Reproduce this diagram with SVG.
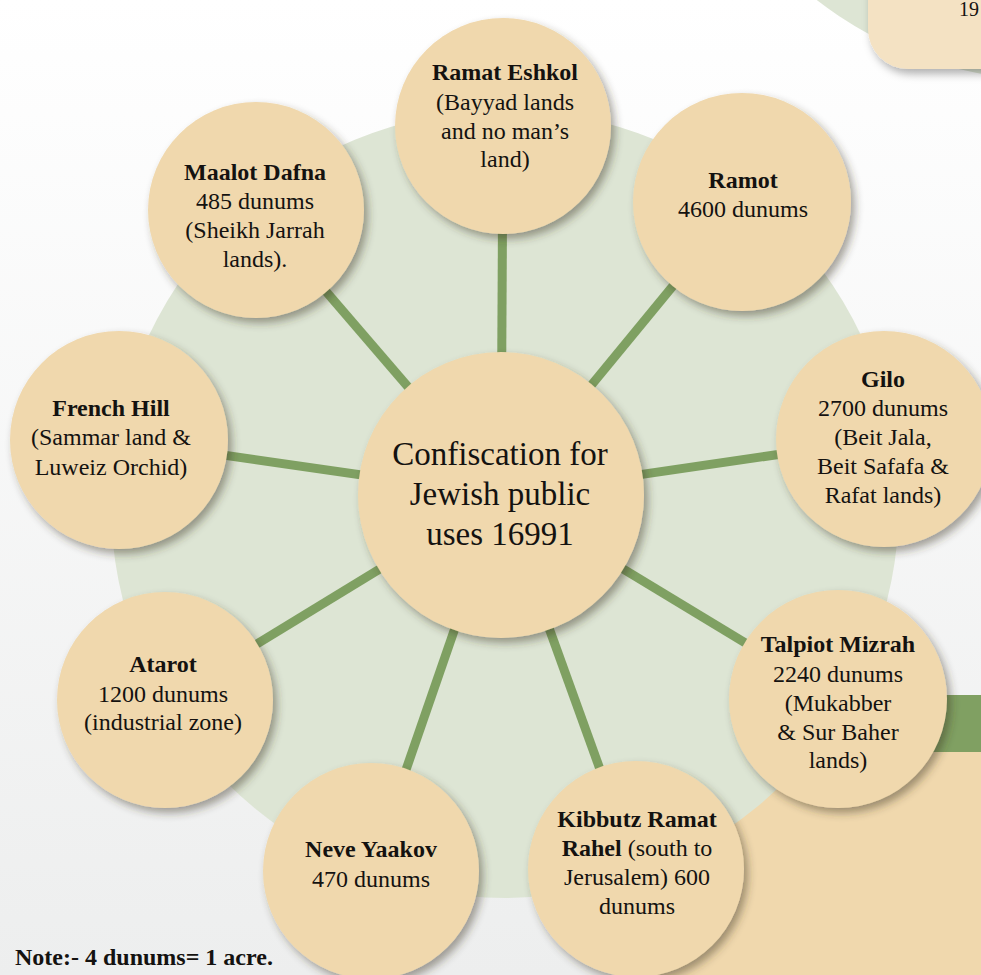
<svg xmlns="http://www.w3.org/2000/svg" width="981" height="975" viewBox="0 0 981 975">
<defs>
<linearGradient id="bg" x1="0" y1="0" x2="0" y2="1">
<stop offset="0" stop-color="#ffffff"/>
<stop offset="1" stop-color="#edeeee"/>
</linearGradient>
<filter id="sh" x="-20%" y="-20%" width="150%" height="150%">
<feDropShadow dx="4" dy="5" stdDeviation="4" flood-color="#3a3520" flood-opacity="0.45"/>
</filter>
<filter id="sh2" x="-20%" y="-50%" width="150%" height="200%">
<feDropShadow dx="3" dy="5" stdDeviation="4" flood-color="#000" flood-opacity="0.3"/>
</filter>
</defs>
<style>
.node{fill:#f0d8ad;filter:url(#sh)}
.t{font-family:"Liberation Serif","Times New Roman",serif;font-size:24px;fill:#141210;text-anchor:middle}
.b{font-weight:bold}
.c{font-size:33px}
.link{stroke:#7fa062;stroke-width:9;fill:none}
</style>
<rect width="981" height="975" fill="url(#bg)"/>
<g id="backdrop">
<circle cx="1050" cy="-300" r="380" fill="#dde5d4"/>
<rect x="868" y="-60" width="160" height="129" rx="40" fill="#f4e2c3" filter="url(#sh2)"/>
<text x="959" y="16" class="t" style="text-anchor:start;font-size:20px">19</text>
<rect x="640" y="752" width="360" height="240" fill="#f0d8ad"/>
<rect x="880" y="695" width="110" height="57" fill="#80a062"/>
<circle cx="505" cy="504" r="394" fill="#dde5d4"/>
</g>
<g id="connectors">
<line class="link" x1="501" y1="495" x2="503" y2="126"/>
<line class="link" x1="501" y1="495" x2="742" y2="202"/>
<line class="link" x1="501" y1="495" x2="884" y2="439"/>
<line class="link" x1="501" y1="495" x2="838" y2="699"/>
<line class="link" x1="501" y1="495" x2="636" y2="869"/>
<line class="link" x1="501" y1="495" x2="371" y2="871"/>
<line class="link" x1="501" y1="495" x2="165" y2="700"/>
<line class="link" x1="501" y1="495" x2="119" y2="440"/>
<line class="link" x1="501" y1="495" x2="256" y2="210"/>
</g>
<g id="n-ramat-eshkol">
<circle class="node" cx="503" cy="126" r="108"/>
<text class="t b" x="505" y="80">Ramat Eshkol</text>
<text class="t" x="505" y="110">(Bayyad lands</text>
<text class="t" x="505" y="139">and no man’s</text>
<text class="t" x="505" y="167">land)</text>
</g>
<g id="n-ramot">
<circle class="node" cx="742" cy="202" r="109"/>
<text class="t b" x="743" y="188">Ramot</text>
<text class="t" x="743" y="217">4600 dunums</text>
</g>
<g id="n-gilo">
<circle class="node" cx="884" cy="439" r="108"/>
<text class="t b" x="883" y="387">Gilo</text>
<text class="t" x="883" y="416">2700 dunums</text>
<text class="t" x="883" y="445">(Beit Jala,</text>
<text class="t" x="883" y="474">Beit Safafa &amp;</text>
<text class="t" x="883" y="503">Rafat lands)</text>
</g>
<g id="n-talpiot">
<circle class="node" cx="838" cy="699" r="109"/>
<text class="t b" x="838" y="652">Talpiot Mizrah</text>
<text class="t" x="838" y="682">2240 dunums</text>
<text class="t" x="838" y="711">(Mukabber</text>
<text class="t" x="838" y="740">&amp; Sur Baher</text>
<text class="t" x="838" y="768">lands)</text>
</g>
<g id="n-kibbutz">
<circle class="node" cx="636" cy="869" r="108"/>
<text class="t b" x="637" y="827">Kibbutz Ramat</text>
<text class="t" x="637" y="856"><tspan class="b">Rahel</tspan> (south to</text>
<text class="t" x="637" y="885">Jerusalem) 600</text>
<text class="t" x="637" y="914">dunums</text>
</g>
<g id="n-neve-yaakov">
<circle class="node" cx="371" cy="871" r="108"/>
<text class="t b" x="371" y="857">Neve Yaakov</text>
<text class="t" x="371" y="887">470 dunums</text>
</g>
<g id="n-atarot">
<circle class="node" cx="165" cy="700" r="108"/>
<text class="t b" x="163" y="672">Atarot</text>
<text class="t" x="163" y="702">1200 dunums</text>
<text class="t" x="163" y="730">(industrial zone)</text>
</g>
<g id="n-french-hill">
<circle class="node" cx="119" cy="440" r="109"/>
<text class="t b" x="111" y="416">French Hill</text>
<text class="t" x="111" y="445">(Sammar land &amp;</text>
<text class="t" x="111" y="475">Luweiz Orchid)</text>
</g>
<g id="n-maalot-dafna">
<circle class="node" cx="256" cy="210" r="108"/>
<text class="t b" x="255" y="180">Maalot Dafna</text>
<text class="t" x="255" y="209">485 dunums</text>
<text class="t" x="255" y="238">(Sheikh Jarrah</text>
<text class="t" x="255" y="267">lands).</text>
</g>
<g id="n-center">
<circle class="node" cx="501" cy="495" r="143"/>
<text class="t c" x="500" y="465">Confiscation for</text>
<text class="t c" x="500" y="505">Jewish public</text>
<text class="t c" x="500" y="545">uses 16991</text>
</g>
<text class="t b" x="15" y="965" style="text-anchor:start">Note:- 4 dunums= 1 acre.</text>
</svg>
